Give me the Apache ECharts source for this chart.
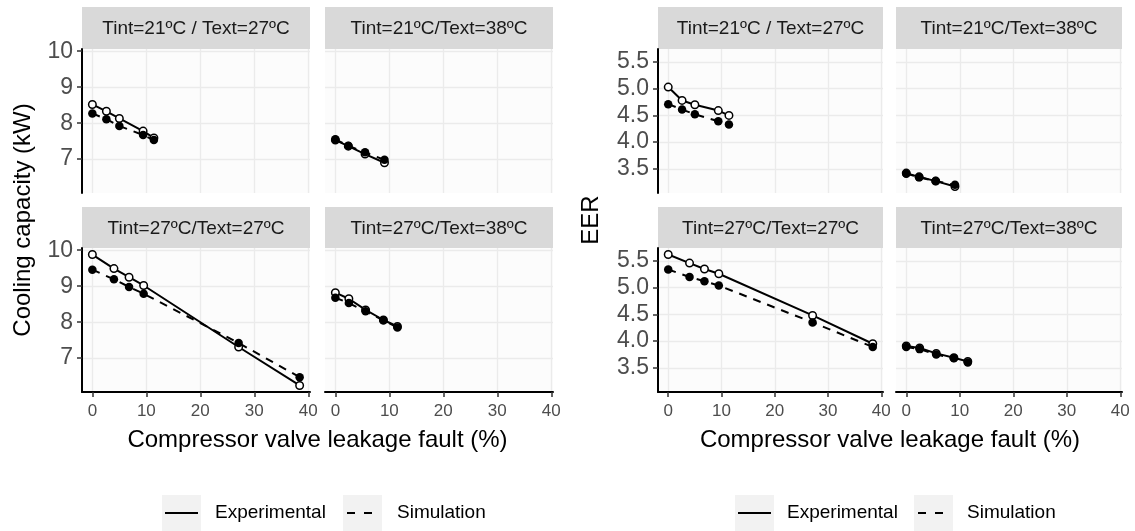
<!DOCTYPE html>
<html><head><meta charset="utf-8">
<script src="https://cdn.jsdelivr.net/npm/echarts@6/dist/echarts.min.js"></script>
<style>html,body{margin:0;padding:0;background:#fff}#c{width:1135px;height:531px}</style>
</head><body><div id="c"></div>
<script>
// ---------- data ----------
const xTicks = [0, 10, 20, 30, 40];
const capTicks = [7, 8, 9, 10];
const eerTicks = [3.5, 4.0, 4.5, 5.0, 5.5];
const facetTitles = ['Tint=21ºC / Text=27ºC', 'Tint=21ºC/Text=38ºC', 'Tint=27ºC/Text=27ºC', 'Tint=27ºC/Text=38ºC'];
const seriesNames = ['Experimental', 'Simulation'];
const xTitle = 'Compressor valve leakage fault (%)';
const capTitle = 'Cooling capacity (kW)';
const eerTitle = 'EER';

const fault_21_27 = [0, 2.6, 5.0, 9.4, 11.4];
const fault_21_38 = [0, 2.4, 5.5, 9.1];
const fault_27_27 = [0, 4.0, 6.8, 9.5, 27.1, 38.4];
const fault_27_38 = [0, 2.5, 5.6, 8.9, 11.5];

const capExp_21_27 = [8.52, 8.33, 8.13, 7.78, 7.59];
const capSim_21_27 = [8.27, 8.11, 7.92, 7.67, 7.53];
const capExp_21_38 = [7.53, 7.36, 7.14, 6.90];
const capSim_21_38 = [7.55, 7.37, 7.19, 6.98];
const capExp_27_27 = [9.88, 9.49, 9.25, 9.02, 7.31, 6.24];
const capSim_27_27 = [9.46, 9.19, 8.98, 8.79, 7.42, 6.47];
const capExp_27_38 = [8.82, 8.65, 8.34, 8.06, 7.88];
const capSim_27_38 = [8.68, 8.53, 8.30, 8.05, 7.85];

const eerExp_21_27 = [5.03, 4.78, 4.70, 4.59, 4.50];
const eerSim_21_27 = [4.71, 4.61, 4.52, 4.39, 4.33];
const eerExp_21_38 = [3.42, 3.35, 3.27, 3.17];
const eerSim_21_38 = [3.41, 3.34, 3.27, 3.20];
const eerExp_27_27 = [5.62, 5.46, 5.35, 5.26, 4.48, 3.95];
const eerSim_27_27 = [5.34, 5.20, 5.12, 5.04, 4.35, 3.89];
const eerExp_27_38 = [3.91, 3.87, 3.77, 3.69, 3.62];
const eerSim_27_38 = [3.89, 3.85, 3.75, 3.68, 3.60];

// ---------- layout ----------
const FONT = 'Liberation Sans, Arial, sans-serif';
const X_MIN = -1.92, X_MAX = 40.32;
const charts = [
  { cols: [[82, 228], [325, 228]], yMin: 6.058, yMax: 10.062, yTicks: capTicks, title: capTitle, titleX: 23, xTitleX: 317.5,
    facets: [[fault_21_27, capExp_21_27, capSim_21_27], [fault_21_38, capExp_21_38, capSim_21_38],
             [fault_27_27, capExp_27_27, capSim_27_27], [fault_27_38, capExp_27_38, capSim_27_38]],
    legend: { key1: 162, text1: 215, key2: 343, text2: 397 }, fmt: v => String(v) },
  { cols: [[658, 225], [896, 226]], yMin: 3.0475, yMax: 5.7425, yTicks: eerTicks, title: eerTitle, titleX: 591, xTitleX: 890,
    facets: [[fault_21_27, eerExp_21_27, eerSim_21_27], [fault_21_38, eerExp_21_38, eerSim_21_38],
             [fault_27_27, eerExp_27_27, eerSim_27_27], [fault_27_38, eerExp_27_38, eerSim_27_38]],
    legend: { key1: 735, text1: 787, key2: 914, text2: 967 }, fmt: v => v.toFixed(1) }
];
const rows = [[49, 144], [248, 144]];
const strips = [[7, 42], [207, 41]];

const grids = [], xAxes = [], yAxes = [], series = [], graphics = [];
let gi = 0;
charts.forEach(ch => {
  ch.facets.forEach((f, fi) => {
    const r = Math.floor(fi / 2), c = fi % 2;
    const [left, width] = ch.cols[c];
    const [top, height] = rows[r];
    const bottomRow = r === 1, leftCol = c === 0;
    grids.push({ left, top, width, height, show: true, backgroundColor: '#FCFCFC', borderWidth: 0, containLabel: false });
    xAxes.push({
      gridIndex: gi, type: 'value', min: X_MIN, max: X_MAX,
      axisLine: { show: bottomRow, onZero: false, lineStyle: { color: '#000', width: 2 } },
      axisTick: { show: bottomRow, customValues: xTicks, length: 5, lineStyle: { color: '#333', width: 1.5 } },
      axisLabel: { show: bottomRow, customValues: xTicks, color: '#4D4D4D', fontSize: 17, fontFamily: FONT, margin: 11 },
      splitLine: { show: true, lineStyle: { color: '#EBEBEB', width: 1.3 } }
    });
    yAxes.push({
      gridIndex: gi, type: 'value', min: ch.yMin, max: ch.yMax,
      axisLine: { show: leftCol, onZero: false, lineStyle: { color: '#000', width: 2 } },
      axisTick: { show: leftCol, customValues: ch.yTicks, length: 5, lineStyle: { color: '#333', width: 1.5 } },
      axisLabel: { show: leftCol, customValues: ch.yTicks, color: '#4D4D4D', fontSize: 23, fontFamily: FONT, margin: 9,
                   formatter: ch.fmt },
      splitLine: { show: true, lineStyle: { color: '#EBEBEB', width: 1.3 } }
    });
    const [xs, exp, sim] = f;
    series.push({
      name: seriesNames[0], type: 'line', xAxisIndex: gi, yAxisIndex: gi, z: 3,
      data: xs.map((x, i) => [x, exp[i]]),
      symbol: 'circle', symbolSize: 7.5, showSymbol: true,
      lineStyle: { color: '#000', width: 2, type: 'solid' },
      itemStyle: { color: '#fff', borderColor: '#000', borderWidth: 1.5 }
    });
    series.push({
      name: seriesNames[1], type: 'line', xAxisIndex: gi, yAxisIndex: gi, z: 4,
      data: xs.map((x, i) => [x, sim[i]]),
      symbol: 'circle', symbolSize: 8.5, showSymbol: true,
      lineStyle: { color: '#000', width: 2, type: [8, 7] },
      itemStyle: { color: '#000', borderColor: '#000', borderWidth: 0 }
    });
    // strip
    const [sTop, sH] = strips[r];
    graphics.push({ type: 'rect', shape: { x: left, y: sTop, width, height: sH }, style: { fill: '#D9D9D9' }, silent: true });
    graphics.push({ type: 'text', x: left + width / 2, y: sTop + sH / 2 + 1,
      style: { text: facetTitles[fi], fill: '#1A1A1A', font: '19px ' + FONT, textAlign: 'center', textVerticalAlign: 'middle' } });
    gi++;
  });
  // axis titles
  graphics.push({ type: 'text', x: ch.xTitleX, y: 440,
    style: { text: xTitle, fill: '#000', font: '24px ' + FONT, textAlign: 'center', textVerticalAlign: 'middle' } });
  graphics.push({ type: 'text', x: ch.titleX, y: 220, rotation: Math.PI / 2,
    style: { text: ch.title, fill: '#000', font: '24px ' + FONT, textAlign: 'center', textVerticalAlign: 'middle' } });
  // legend
  const L = ch.legend, ky = 495, kh = 36, kw = 39, my = 513;
  graphics.push({ type: 'rect', shape: { x: L.key1, y: ky, width: kw, height: kh }, style: { fill: '#F2F2F2' } });
  graphics.push({ type: 'line', shape: { x1: L.key1 + 3, y1: my, x2: L.key1 + kw - 3, y2: my }, style: { stroke: '#000', lineWidth: 2 } });
  graphics.push({ type: 'text', x: L.text1, y: my, style: { text: seriesNames[0], fill: '#000', font: '19px ' + FONT, textVerticalAlign: 'middle' } });
  graphics.push({ type: 'rect', shape: { x: L.key2, y: ky, width: kw, height: kh }, style: { fill: '#F2F2F2' } });
  graphics.push({ type: 'line', shape: { x1: L.key2 + 4, y1: my, x2: L.key2 + kw - 3, y2: my }, style: { stroke: '#000', lineWidth: 2, lineDash: [8, 9] } });
  graphics.push({ type: 'text', x: L.text2, y: my, style: { text: seriesNames[1], fill: '#000', font: '19px ' + FONT, textVerticalAlign: 'middle' } });
});

const chart = echarts.init(document.getElementById('c'), null, { renderer: 'canvas' });
chart.setOption({
  animation: false,
  backgroundColor: '#fff',
  grid: grids, xAxis: xAxes, yAxis: yAxes, series,
  graphic: graphics
});
</script></body></html>
